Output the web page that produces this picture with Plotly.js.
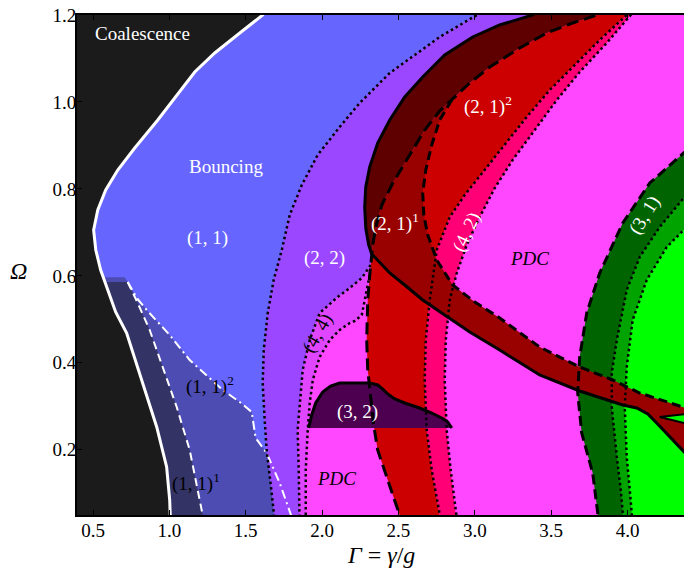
<!DOCTYPE html>
<html>
<head>
<meta charset="utf-8">
<script src="https://cdn.plot.ly/plotly-3.0.1.min.js"></script>
<style>
  html, body { margin: 0; padding: 0; background: #ffffff; }
  #chart { width: 684px; height: 581px; }
</style>
</head>
<body>
<div id="chart"></div>
<script>
// ---- Regime boundaries in the (Γ, Ω) plane ----

// Coalescence / bouncing boundary (white solid)
const coalX = [1.670, 1.611, 1.461, 1.297, 1.166, 1.048, 0.924, 0.773, 0.662, 0.583, 0.531, 0.504, 0.518, 0.550, 0.596, 0.648, 0.720, 0.825, 0.917, 0.982, 1.002, 1.009];
const coalY = [1.2345, 1.200, 1.1586, 1.1126, 1.0689, 1.016, 0.9585, 0.8941, 0.8435, 0.7975, 0.7515, 0.7055, 0.6595, 0.6135, 0.5675, 0.5169, 0.4686, 0.3536, 0.2524, 0.1604, 0.0845, 0.0155];

// Bouncing (1,1) / (2,2) boundary (dotted)
const bounceX = [3.098, 3.013, 2.770, 2.443, 2.246, 2.115, 1.971, 1.867, 1.788, 1.736, 1.683, 1.644, 1.618, 1.611, 1.624, 1.637, 1.664, 1.690, 1.696];
const bounceY = [1.223, 1.200, 1.1494, 1.0666, 0.9976, 0.9424, 0.878, 0.809, 0.740, 0.6595, 0.5905, 0.5146, 0.4295, 0.3536, 0.2685, 0.1995, 0.119, 0.0454, 0.0155];

// (1,1)^1 limit (white dashed) and (1,1)^2 limit (white dash-dot)
const w11aX = [0.727, 0.7925, 0.871, 0.956, 1.048, 1.133, 1.218, 1.231];
const w11aY = [0.5859, 0.5376, 0.4755, 0.3904, 0.2984, 0.1995, 0.0454, 0.027];
const w11bX = [0.727, 0.786, 0.8515, 1.002, 1.133, 1.264, 1.349, 1.4605, 1.539, 1.552, 1.565, 1.637, 1.7225, 1.801, 1.814];
const w11bY = [0.5859, 0.5491, 0.5215, 0.464, 0.4065, 0.3651, 0.3375, 0.3099, 0.2869, 0.257, 0.2271, 0.1926, 0.1236, 0.0454, 0.027];
// upper cut of the (1,1) sub-regions
const w11TopX = [0.30, 0.707];
const w11TopY = [0.597, 0.597];

// (2,1)^1 outer boundary (solid): upper arm and lower arm / tail
const aUpX = [3.458, 3.379, 3.163, 2.986, 2.803, 2.659, 2.541, 2.443, 2.364, 2.312, 2.286, 2.279, 2.286, 2.305, 2.325];
const aUpY = [1.223, 1.200, 1.177, 1.1494, 1.108, 1.0574, 1.0114, 0.9585, 0.9056, 0.8504, 0.8044, 0.7584, 0.7101, 0.671, 0.6503];
const aLowX = [2.325, 2.377, 2.443, 2.541, 2.659, 2.803, 2.967, 3.163, 3.425, 3.687, 3.969, 4.061, 4.133, 4.191, 4.296, 4.368, 4.421];
const aLowY = [0.6503, 0.6319, 0.6066, 0.579, 0.5445, 0.510, 0.4709, 0.4295, 0.372, 0.3352, 0.303, 0.2961, 0.2823, 0.2616, 0.2225, 0.1949, 0.1765];

// (2,1)^2 boundary (long dashes): top part, middle part, lower part
const bUpX = [3.884, 3.799, 3.622, 3.471, 3.294, 3.098, 2.967, 2.849];
const bUpY = [1.223, 1.200, 1.1793, 1.1586, 1.1241, 1.0804, 1.0436, 1.0045];
const bMidX = [2.849, 2.770, 2.672, 2.554, 2.463, 2.391, 2.351, 2.332, 2.325];
const bMidY = [1.0045, 0.9792, 0.9355, 0.8665, 0.8136, 0.763, 0.7101, 0.671, 0.6503];
const bLowX = [2.325, 2.312, 2.299, 2.292, 2.299, 2.318, 2.338, 2.364, 2.410, 2.463, 2.508, 2.521];
const bLowY = [0.6503, 0.602, 0.5445, 0.4525, 0.3835, 0.3145, 0.257, 0.1995, 0.1489, 0.096, 0.050, 0.027];

// (2,1)^1 inner boundary and tail upper edge (dashed)
const cX = [2.849, 2.770, 2.718, 2.679, 2.659, 2.666, 2.692, 2.751, 2.855, 3.000, 3.163, 3.425, 3.687, 3.903, 4.080, 4.224, 4.368, 4.421];
const cY = [1.0045, 0.9585, 0.901, 0.8435, 0.7906, 0.740, 0.694, 0.6365, 0.579, 0.5399, 0.5031, 0.4364, 0.3904, 0.3605, 0.3306, 0.3145, 0.2984, 0.2915];
// split in the tail near the right edge
const tailNotchX = [4.421, 4.211, 4.421];
const tailNotchY = [0.2835, 0.2754, 0.257];

// (4,2) band edges (dotted)
const d1X = [4.080, 3.995, 3.818, 3.641, 3.491, 3.340, 3.196, 3.052, 2.934, 2.836, 2.751, 2.705, 2.679, 2.672, 2.685, 2.718, 2.770, 2.783];
const d1Y = [1.223, 1.200, 1.1425, 1.0804, 1.0275, 0.9654, 0.901, 0.8366, 0.786, 0.7354, 0.6595, 0.5445, 0.4525, 0.3605, 0.2455, 0.1535, 0.050, 0.027];
const d2X = [4.113, 4.021, 3.864, 3.687, 3.537, 3.393, 3.248, 3.131, 3.032, 2.947, 2.882, 2.836, 2.810, 2.803, 2.816, 2.842, 2.875, 2.888];
const d2Y = [1.223, 1.200, 1.1356, 1.0689, 1.0045, 0.9355, 0.8665, 0.8021, 0.7354, 0.671, 0.6066, 0.5445, 0.4525, 0.3605, 0.2455, 0.1535, 0.050, 0.027];

// (4,4) band edges (dotted)
const f44X = [2.318, 2.260, 2.181, 2.102, 1.984, 1.919, 1.873, 1.853, 1.840, 1.847, 1.853, 1.853];
const f44Y = [0.625, 0.5951, 0.5721, 0.5514, 0.5146, 0.4525, 0.3835, 0.3076, 0.2455, 0.1535, 0.050, 0.027];
const g44X = [2.312, 2.286, 2.260, 2.214, 2.181, 2.115, 2.050, 1.984, 1.939, 1.919, 1.906, 1.893, 1.893, 1.893];
const g44Y = [0.602, 0.556, 0.510, 0.4962, 0.4916, 0.4755, 0.4525, 0.4134, 0.3605, 0.3076, 0.2455, 0.1535, 0.050, 0.027];

// (3,2) island (solid top edge, flat bottom)
const r32X = [1.912, 1.932, 1.958, 2.004, 2.056, 2.115, 2.312, 2.364, 2.397, 2.430, 2.476, 2.541, 2.639, 2.718, 2.783, 2.823, 2.849];
const r32Y = [0.2501, 0.280, 0.3076, 0.3329, 0.3467, 0.3536, 0.3536, 0.349, 0.3398, 0.3283, 0.3168, 0.3076, 0.2961, 0.2846, 0.2731, 0.2639, 0.2501];

// (3,1) band: outer edge (dashed), inner edges (dotted)
const g31aX = [4.473, 4.368, 4.146, 3.969, 3.818, 3.733, 3.687, 3.674, 3.700, 3.772, 3.805, 3.812];
const g31aY = [0.9125, 0.8826, 0.8136, 0.7216, 0.6066, 0.5146, 0.4134, 0.3306, 0.2386, 0.1466, 0.0546, 0.027];
const g31bX = [4.473, 4.368, 4.211, 4.080, 3.995, 3.930, 3.897, 3.897, 3.930, 3.956, 3.969, 3.969];
const g31bY = [0.809, 0.7791, 0.7124, 0.6434, 0.5675, 0.4525, 0.3766, 0.2984, 0.1834, 0.1075, 0.0546, 0.027];
const g31cX = [4.473, 4.368, 4.257, 4.126, 4.034, 3.995, 3.982, 3.995, 4.015, 4.028, 4.034];
const g31cY = [0.7331, 0.7055, 0.6664, 0.5905, 0.4985, 0.3904, 0.2984, 0.1834, 0.1075, 0.0546, 0.027];

// Axis ticks
const xTicks = [0.5, 1.0, 1.5, 2.0, 2.5, 3.0, 3.5, 4.0];
const yTicks = [0.2, 0.4, 0.6, 0.8, 1.0, 1.2];

// Region labels
const labelText = ['Coalescence', 'Bouncing', '(1, 1)', '(2, 2)', '(1, 1)<sup>2</sup>', '(1, 1)<sup>1</sup>',
                   '(3, 2)', '<i>PDC</i>', '<i>PDC</i>', '(2, 1)<sup>1</sup>', '(2, 1)<sup>2</sup>',
                   '(4, 2)', '(3, 1)', '(4, 4)'];
const labelX = [0.825, 1.369, 1.251, 2.017, 1.264, 1.172, 2.233, 2.096, 3.360, 2.476, 3.085, 2.947, 4.113, 1.971];
const labelY = [1.1586, 0.8527, 0.6871, 0.6411, 0.349, 0.1259, 0.2869, 0.1351, 0.6411, 0.7239, 0.993, 0.7009, 0.740, 0.4686];
const labelColor = ['#fff', '#fff', '#fff', '#fff', '#000', '#000', '#fff', '#000', '#000', '#fff', '#fff', '#fff', '#fff', '#000'];
const labelAngle = [0, 0, 0, 0, 0, 0, 0, 0, 0, 0, 0, -65, -58, -60];

// ---- helpers ----
const rev = a => a.slice().reverse();
const cat = (...parts) => [].concat(...parts);

function area(x, y, color) {
  return { type: 'scatter', mode: 'lines', x: x, y: y, fill: 'toself', fillcolor: color,
           line: { width: 0, color: color }, hoverinfo: 'skip', showlegend: false };
}
function edge(x, y, color, width, dash) {
  return { type: 'scatter', mode: 'lines', x: x, y: y,
           line: { color: color, width: width, dash: dash || 'solid' },
           hoverinfo: 'skip', showlegend: false };
}

const LEFT = 0.30, RIGHT = 4.60, LOW = 0.0;
const DOT = '2.5px,3px';

const traces = [
  // bouncing (1,1)
  area(cat(bounceX, [LEFT, LEFT]), cat(bounceY, [0.0155, 1.223]), '#6666ff'),
  // (1,1)^2
  area(cat(w11TopX, w11bX, [LEFT]), cat(w11TopY, w11bY, [0.027]), '#4c4cb3'),
  // (1,1)^1
  area(cat([LEFT], w11aX, [LEFT]), cat([0.5859], w11aY, [0.027]), '#333366'),
  // coalescence
  area(cat(coalX, [LEFT, LEFT]), cat(coalY, [0.0155, 1.2345]), '#1b1b1b'),
  // (2,2)
  area(cat(bounceX, rev(f44X), rev(aUpX)), cat(bounceY, rev(f44Y), rev(aUpY)), '#9a47ff'),
  // (3,1) bands
  area(cat(g31aX, [RIGHT, RIGHT]), cat(g31aY, [LOW, 0.95]), '#006400'),
  area(cat(g31bX, [RIGHT, RIGHT]), cat(g31bY, [LOW, 0.85]), '#00a300'),
  area(cat(g31cX, [RIGHT, RIGHT]), cat(g31cY, [LOW, 0.75]), '#00ff00'),
  // (2,1)^2
  area(cat(bUpX, bMidX, bLowX, rev(d1X)), cat(bUpY, bMidY, bLowY, rev(d1Y)), '#cc0000'),
  // (4,2)
  area(cat(d1X, rev(d2X)), cat(d1Y, rev(d2Y)), '#ff0077'),
  // (4,4)
  area(cat(f44X, rev(g44X)), cat(f44Y, rev(g44Y)), '#e046ff'),
  // (2,1)^1 with (2,1)^2 coexisting, upper arm
  area(cat(aUpX, rev(bMidX), rev(bUpX)), cat(aUpY, rev(bMidY), rev(bUpY)), '#5e0000'),
  // (2,1)^1
  area(cat(cX, rev(aLowX), rev(bMidX)), cat(cY, rev(aLowY), rev(bMidY)), '#990000'),
  area(tailNotchX, tailNotchY, '#00ff00'),
  // (3,2)
  area(r32X, r32Y, '#4d0050'),

  // boundaries
  edge(coalX, coalY, '#ffffff', 3),
  edge(w11aX, w11aY, '#ffffff', 2, '8px,5px'),
  edge(w11bX, w11bY, '#ffffff', 2, '9px,4px,2px,4px'),
  edge(bounceX, bounceY, '#000', 2.5, DOT),
  edge(f44X, f44Y, '#000', 2.5, DOT),
  edge(g44X, g44Y, '#000', 2.5, DOT),
  edge(d1X, d1Y, '#000', 2.5, DOT),
  edge(d2X, d2Y, '#000', 2.5, DOT),
  edge(g31bX, g31bY, '#000', 2.5, DOT),
  edge(g31cX, g31cY, '#000', 2.5, DOT),
  edge(g31aX, g31aY, '#000', 3, '10px,5px'),
  edge(cat(bUpX, bMidX, bLowX), cat(bUpY, bMidY, bLowY), '#000', 3, '12px,6px'),
  edge(cX, cY, '#000', 3, '9px,5px'),
  edge(cat(aUpX, aLowX), cat(aUpY, aLowY), '#000', 3),
  edge(tailNotchX, tailNotchY, '#000', 2),
  edge(r32X, r32Y, '#000', 3)
];

const serif = 'Liberation Serif, Times New Roman, serif';

const annotations = labelText.map((t, i) => ({
  x: labelX[i], y: labelY[i], xref: 'x', yref: 'y', text: t, showarrow: false,
  textangle: labelAngle[i], xanchor: 'center', yanchor: 'middle',
  font: { family: serif, size: 19, color: labelColor[i] }
}));
annotations.push({
  xref: 'paper', yref: 'paper', x: 0.501, y: -0.08, xanchor: 'center', yanchor: 'middle',
  text: '<i>Γ</i> = <i>γ</i>/<i>g</i>', showarrow: false,
  font: { family: serif, size: 24, color: '#000' }
});
annotations.push({
  xref: 'paper', yref: 'paper', x: -0.097, y: 0.488, xanchor: 'center', yanchor: 'middle',
  text: '<i>Ω</i>', showarrow: false,
  font: { family: serif, size: 24, color: '#000' }
});

const axisCommon = {
  ticks: 'inside', ticklen: 5, tickwidth: 1, tickcolor: '#000',
  showline: true, linewidth: 2, linecolor: '#000',
  showgrid: false, zeroline: false,
  tickfont: { family: serif, size: 19, color: '#000' }
};

const layout = {
  width: 684, height: 581,
  margin: { l: 77, r: 0, t: 15, b: 66 },
  paper_bgcolor: '#ffffff', plot_bgcolor: '#ff47ff',
  showlegend: false,
  xaxis: Object.assign({}, axisCommon, {
    range: [0.395, 4.370], tickvals: xTicks, ticktext: xTicks.map(v => v.toFixed(1)),
    mirror: 'ticks', ticklabelstandoff: -3
  }),
  yaxis: Object.assign({}, axisCommon, {
    range: [0.05, 1.2], tickvals: yTicks, ticktext: yTicks.map(v => v.toFixed(1)),
    mirror: false, ticklabelstandoff: -5
  }),
  annotations: annotations
};

Plotly.newPlot('chart', traces, layout, { staticPlot: true, displayModeBar: false });
</script>
</body>
</html>
